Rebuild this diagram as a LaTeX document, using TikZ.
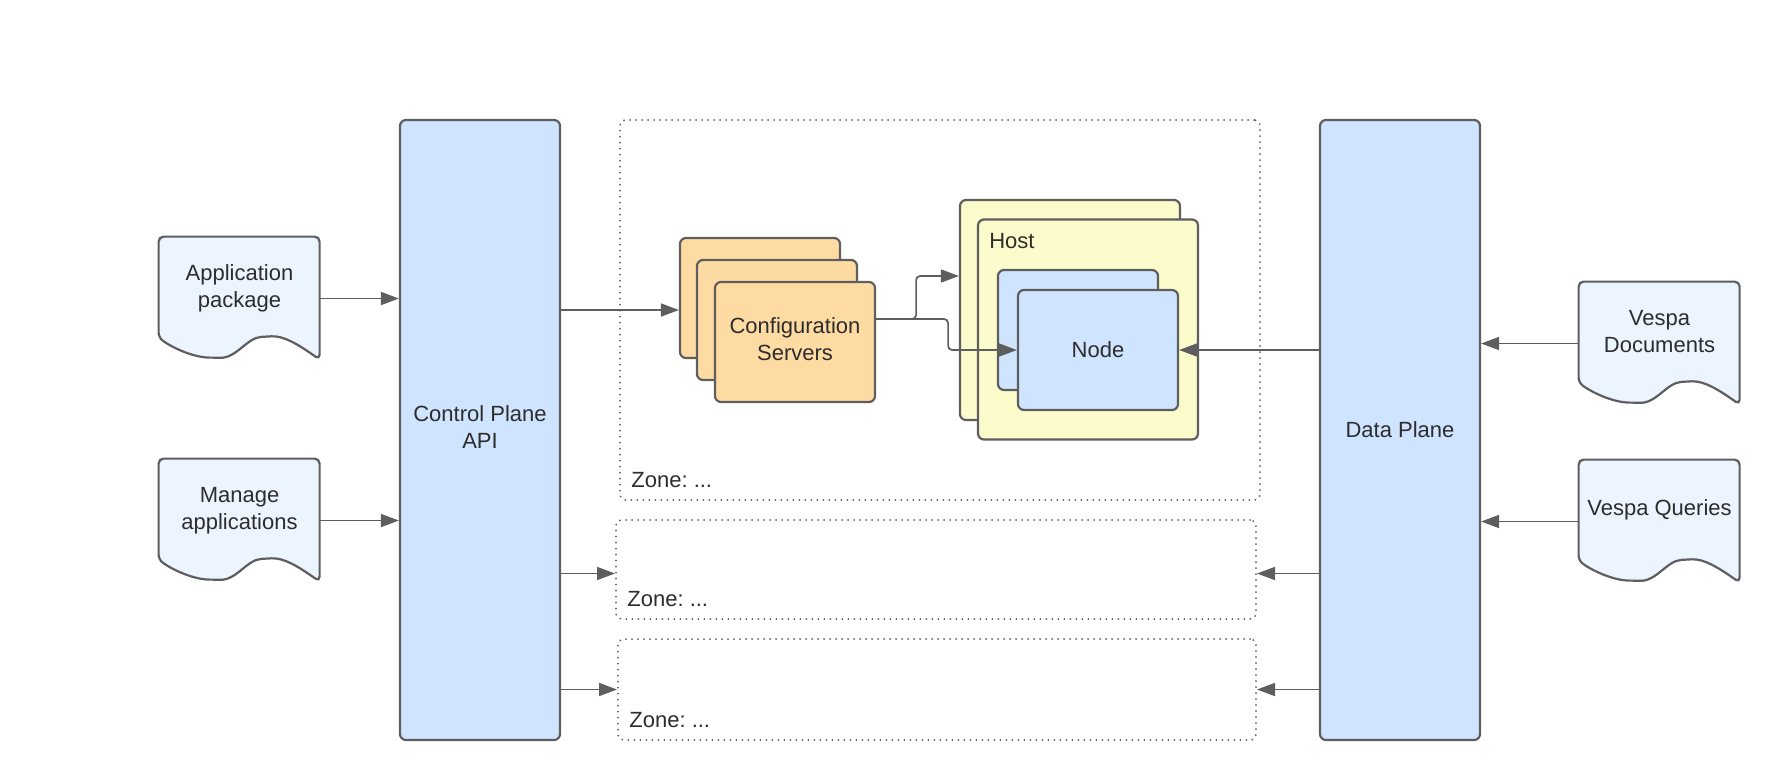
\documentclass[tikz,border=0pt]{standalone}
\usepackage{fontspec}
\setmainfont{Liberation Sans}
\usepackage{tikz}
\usetikzlibrary{positioning,arrows.meta,calc}
\definecolor{strokegray}{RGB}{94,94,94}
\definecolor{textgray}{RGB}{45,45,45}
\definecolor{planeblue}{RGB}{207,228,255}
\definecolor{cfgorange}{RGB}{255,219,164}
\definecolor{hostyellow}{RGB}{252,251,203}
\colorlet{docblue}{planeblue!40}
\frenchspacing

\tikzset{
  box/.style={draw=strokegray,line width=1.1pt,rounded corners=3pt,text=textgray,align=center,inner sep=0pt},
  plane/.style={box,fill=planeblue,minimum width=80pt,minimum height=310pt},
  cfgbox/.style={box,fill=cfgorange,minimum width=80pt,minimum height=60pt},
  hostbox/.style={box,fill=hostyellow,minimum width=110pt,minimum height=110pt},
  nodebox/.style={box,fill=planeblue,minimum width=80pt,minimum height=60pt},
  zonebox/.style={draw=strokegray,line width=1pt,dash pattern=on 0pt off 3pt,line cap=round,rounded corners=3pt,inner sep=0pt},
  docbox/.style={inner sep=0pt,minimum width=80.5pt,minimum height=61.5pt},
  docline/.style={draw=strokegray,fill=docblue,line width=1.1pt,rounded corners=2.5pt},
  doctext/.style={text=textgray,align=center,inner sep=0pt},
  tag/.style={anchor=west,text=textgray,inner sep=0pt},
  conn/.style={draw=strokegray,line width=0.85pt,-{Triangle[length=9pt,width=6.5pt]}},
}
\newcommand{\docshape}[1]{%
  \begin{scope}[shift={(#1.north west)}]
    \path[docline] (0,101) -- (0,0) -- (161,0) -- (161,123)
      .. controls (140,108) and (125,99) .. (108,100)
      .. controls (88,101) and (78,122) .. (56,121)
      .. controls (36,121) and (15,112) .. (0,101) -- cycle;
  \end{scope}}

\begin{document}
\begin{tikzpicture}[x=.5pt,y=-.5pt,every node/.style={font=\fontsize{11pt}{13.5pt}\selectfont}]
      \useasboundingbox (0,0) rectangle (1780,782);
      \node[zonebox,minimum width=320pt,minimum height=190pt] (zonea) at (940,310) {};
      \node[zonebox,minimum width=320pt,minimum height=49.5pt] (zoneb) at (936,569.5) {};
      \node[zonebox,minimum width=319pt,minimum height=50.5pt] (zonec) at (937,689.5) {};
      \node[tag] (zonea-t) at ([shift={(6pt,10.5pt)}]zonea.south west) {Zone: ...};
      \node[tag] (zoneb-t) at ([shift={(6pt,10.5pt)}]zoneb.south west) {Zone: ...};
      \node[tag] (zonec-t) at ([shift={(6pt,10.5pt)}]zonec.south west) {Zone: ...};
      \node[plane] (cp) at (480,430) {\raisebox{1.5pt}{\begin{tabular}{@{}c@{}}Control Plane\\API\end{tabular}}};
      \node[plane] (dp) at (1400,430) {Data Plane};
      \node[docbox] (apppkg) at (239.5,298.5) {};
      \docshape{apppkg}
      \node[doctext] (apppkg-t) at ([yshift=5pt]apppkg.center) {Application\\package};
      \node[docbox] (manage) at (239.5,520.5) {};
      \docshape{manage}
      \node[doctext] (manage-t) at ([yshift=5pt]manage.center) {Manage\\applications};
      \node[docbox] (vdocs) at (1659.5,343.5) {};
      \docshape{vdocs}
      \node[doctext] (vdocs-t) at ([yshift=6pt]vdocs.center) {Vespa\\Documents};
      \node[docbox] (vquery) at (1659.5,521.5) {};
      \docshape{vquery}
      \node[doctext] (vquery-t) at ([yshift=6pt]vquery.center) {Vespa Queries};
      \node[cfgbox] (cfga) at (760,298) {};
      \node[cfgbox] (cfgb) at (777,320) {};
      \node[cfgbox] (cfgc) at (795,342) {};
      \node[doctext] (cfgc-t) at ([yshift=1.5pt]cfgc.center) {Configuration\\Servers};
      \node[hostbox] (hosta) at (1070,310) {};
      \node[hostbox] (hostb) at (1088,329.5) {};
      \node[tag] (hostb-t) at ([shift={(6pt,-11.5pt)}]hostb.north west) {Host};
      \node[nodebox] (nda) at (1078,330) {};
      \node[nodebox] (ndb) at (1098,350) {Node};
      \draw[conn] (apppkg.east) -- (apppkg.east -| cp.west);
      \draw[conn] (manage.east) -- (manage.east -| cp.west);
      \draw[conn] (vdocs.west) -- (vdocs.west -| dp.east);
      \draw[conn] (vquery.west) -- (vquery.west -| dp.east);
      \coordinate (cfgin) at ([yshift=-6pt]cfga.west);
      \draw[conn] (cfgin -| cp.east) -- (cfgin);
      \coordinate (zbmid) at ([yshift=-2pt]zoneb.center);
      \draw[conn] (zbmid -| cp.east) -- (zbmid -| zoneb.west);
      \draw[conn] (zbmid -| dp.west) -- (zbmid -| zoneb.east);
      \draw[conn] (zonec.west -| cp.east) -- (zonec.west);
      \draw[conn] (zonec.east -| dp.west) -- (zonec.east);
      \coordinate (cfgout) at ([yshift=11.5pt]cfgc.east);
      \draw[conn,rounded corners=2pt] (cfgout) -- ++(20pt,0) |- ([yshift=17pt]hosta.west);
      \draw[conn,rounded corners=2pt] (cfgout) -- ++(36pt,0) |- (ndb.west);
      \draw[conn] (ndb.east -| dp.west) -- (ndb.east);
\end{tikzpicture}
\end{document}
